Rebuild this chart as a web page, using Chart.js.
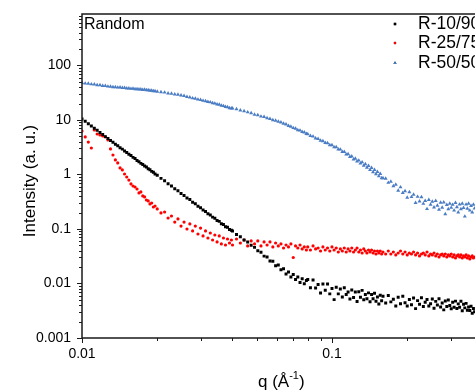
<!DOCTYPE html>
<html>
<head>
<meta charset="utf-8">
<script src="https://cdn.jsdelivr.net/npm/chart.js"></script>
<style>
  html, body { margin: 0; padding: 0; background: #fff; overflow: hidden; }
  canvas { display: block; }
</style>
</head>
<body>
<canvas id="chart" width="520" height="390"></canvas>
<script>
// q grid (A^-1), shared by the three samples
const q = [
  0.0100, 0.0103, 0.0106, 0.0109, 0.0112, 0.0115, 0.0118, 0.0121, 0.0124, 0.0127, 0.0130, 0.0133, 0.0136, 0.0139, 0.0142, 0.0145, 0.0148,
  0.0151, 0.0154, 0.0157, 0.0160, 0.0163, 0.0166, 0.0169, 0.0172, 0.0175, 0.0178, 0.0181, 0.0184, 0.0187, 0.0190, 0.0193, 0.0196,
  0.0200, 0.0207, 0.0214, 0.0221, 0.0228, 0.0235, 0.0242, 0.0249, 0.0256, 0.0263, 0.0270, 0.0277, 0.0284, 0.0291, 0.0298,
  0.0305, 0.0312, 0.0319, 0.0326, 0.0333, 0.0340, 0.0347, 0.0354, 0.0361, 0.0368, 0.0375, 0.0382, 0.0389, 0.0396,
  0.0400, 0.0415, 0.0430, 0.0445, 0.0460, 0.0475, 0.0490, 0.0505, 0.0520, 0.0535, 0.0550, 0.0565, 0.0580, 0.0595,
  0.0610, 0.0625, 0.0640, 0.0655, 0.0670, 0.0685, 0.0700, 0.0715, 0.0730, 0.0745, 0.0760, 0.0775, 0.0790,
  0.080, 0.082, 0.084, 0.086, 0.088, 0.090, 0.092, 0.094, 0.096, 0.098, 0.100, 0.102, 0.104, 0.106, 0.108, 0.110, 0.112, 0.114, 0.116, 0.118,
  0.120, 0.122, 0.124, 0.126, 0.128, 0.130, 0.132, 0.134, 0.136, 0.138, 0.140, 0.142, 0.144, 0.146, 0.148, 0.150, 0.152, 0.154, 0.156, 0.158,
  0.160, 0.164, 0.168, 0.172, 0.176, 0.180, 0.184, 0.188, 0.192, 0.196, 0.200, 0.204, 0.208, 0.212, 0.216, 0.220, 0.224, 0.228,
  0.232, 0.236, 0.240, 0.244, 0.248, 0.252, 0.256, 0.260, 0.264, 0.268, 0.272, 0.276, 0.280, 0.284, 0.288, 0.292, 0.296, 0.300,
  0.304, 0.308, 0.312, 0.316, 0.320, 0.324, 0.328, 0.332, 0.336, 0.340, 0.344, 0.348, 0.352, 0.356, 0.360, 0.364, 0.368, 0.372
];

// intensities (a.u.)
const r1090 = [
  10.4, 9.45, 8.50, 7.76, 7.04, 6.46, 5.87, 5.43, 4.95, 4.59, 4.21, 3.92, 3.59, 3.36, 3.10, 2.92, 2.69,
  2.54, 2.35, 2.22, 2.06, 1.96, 1.81, 1.72, 1.60, 1.53, 1.43, 1.37, 1.27, 1.22, 1.14, 1.10, 1.02,
  0.965, 0.848, 0.767, 0.676, 0.616, 0.547, 0.502, 0.449, 0.413, 0.371, 0.346, 0.310, 0.291, 0.261, 0.245,
  0.223, 0.210, 0.191, 0.181, 0.165, 0.158, 0.143, 0.138, 0.125, 0.121, 0.110, 0.108, 0.0980, 0.0950,
  0.0915, 0.0795, 0.0718, 0.0628, 0.0575, 0.0502, 0.0460, 0.0398, 0.0375, 0.0318, 0.0307, 0.0258, 0.0256, 0.0212,
  0.0218, 0.0178, 0.0186, 0.0149, 0.0163, 0.0131, 0.0146, 0.0118, 0.0131, 0.0104, 0.0122, 0.0099, 0.0113,
  0.0118, 0.00832, 0.0116, 0.00826, 0.00958, 0.00668, 0.00982, 0.00749, 0.00978, 0.00645, 0.00812, 0.00506, 0.00853, 0.00645, 0.00789, 0.00566, 0.00835, 0.00631, 0.00695, 0.00518,
  0.00760, 0.00555, 0.00698, 0.00467, 0.00705, 0.00559, 0.00748, 0.00505, 0.00627, 0.00523, 0.00673, 0.00462, 0.00631, 0.00525, 0.00663, 0.00472, 0.00565, 0.00421, 0.00607, 0.00483,
  0.00582, 0.00440, 0.00605, 0.00460, 0.00512, 0.00385, 0.00557, 0.00426, 0.00584, 0.00445, 0.00387, 0.00508, 0.00409, 0.00540, 0.00346, 0.00485, 0.00415, 0.00548,
  0.00380, 0.00454, 0.00509, 0.00388, 0.00425, 0.00519, 0.00351, 0.00470, 0.00403, 0.00525, 0.00370, 0.00439, 0.00328, 0.00477, 0.00379, 0.00497, 0.00396, 0.00344,
  0.00453, 0.00366, 0.00475, 0.00347, 0.00423, 0.00366, 0.00471, 0.00316, 0.00418, 0.00357, 0.00432, 0.00322, 0.00370, 0.00319, 0.00384, 0.00285, 0.00349, 0.00303
];

const r2575 = [
  6.28, 4.88, 3.94, 3.06, 6.56, 5.53, 5.31, 5.08, 4.88, 4.30, 2.94, 2.28, 1.85, 1.63, 1.32, 1.21, 1.02,
  0.90, 0.79, 0.67, 0.615, 0.59, 0.542, 0.458, 0.478, 0.404, 0.387, 0.340, 0.327, 0.288, 0.300, 0.253, 0.264,
  0.233, 0.197, 0.205, 0.159, 0.173, 0.134, 0.153, 0.113, 0.134, 0.100, 0.124, 0.092, 0.113, 0.081, 0.104,
  0.0745, 0.092, 0.0684, 0.0845, 0.0628, 0.0776, 0.0578, 0.0745, 0.0531, 0.0684, 0.0508, 0.0655, 0.0553, 0.0628,
  0.0508, 0.0655, 0.0553, 0.0628, 0.0488, 0.0603, 0.0531, 0.0603, 0.0488, 0.0578, 0.0508, 0.0578, 0.0468, 0.0553,
  0.0488, 0.0531, 0.0448, 0.0508, 0.0468, 0.0531, 0.0300, 0.0488, 0.0448, 0.0508, 0.0430, 0.0468, 0.0412,
  0.0468, 0.0412, 0.0488, 0.0430, 0.0448, 0.0395, 0.0468, 0.0412, 0.0448, 0.0395, 0.0468, 0.0412, 0.0448, 0.0378, 0.0430, 0.0395, 0.0448, 0.0378, 0.0430, 0.0395,
  0.0448, 0.0378, 0.0412, 0.0448, 0.0378, 0.0412, 0.0363, 0.0430, 0.0395, 0.0363, 0.0412, 0.0378, 0.0412, 0.0363, 0.0395, 0.0348, 0.0395, 0.0363, 0.0395, 0.0348,
  0.0378, 0.0348, 0.0395, 0.0348, 0.0378, 0.0334, 0.0363, 0.0395, 0.0348, 0.0378, 0.0334, 0.0363, 0.0348, 0.0378, 0.0334, 0.0363, 0.0320, 0.0348,
  0.0363, 0.0334, 0.0378, 0.0320, 0.0348, 0.0334, 0.0363, 0.0320, 0.0348, 0.0306, 0.0334, 0.0348, 0.0320, 0.0348, 0.0306, 0.0334, 0.0320, 0.0348,
  0.0306, 0.0334, 0.0294, 0.0320, 0.0334, 0.0306, 0.0334, 0.0294, 0.0320, 0.0306, 0.0334, 0.0294, 0.0320, 0.0282, 0.0306, 0.0320, 0.0294, 0.0306
];

const r5050 = [
  47.9, 46.8, 46.5, 45.3, 45.0, 43.7, 43.6, 42.5, 42.3, 41.2, 41.1, 40.2, 40.3, 39.5, 39.6, 38.8, 38.9,
  38.2, 38.2, 37.5, 37.6, 36.9, 37.0, 36.4, 36.6, 35.9, 36.0, 35.4, 35.4, 34.6, 34.7, 33.9, 34.0,
  33.3, 32.5, 32.0, 30.9, 30.5, 29.6, 29.3, 28.3, 27.7, 26.7, 26.0, 25.1, 24.7, 23.8, 23.4,
  22.6, 22.2, 21.5, 21.2, 20.5, 20.1, 19.4, 19.1, 18.4, 18.1, 17.5, 17.2, 16.6, 16.4,
  16.4, 15.9, 15.0, 14.6, 13.9, 13.4, 12.6, 12.3, 11.6, 11.4, 10.8, 10.5, 10.0, 9.78,
  9.32, 9.05, 8.58, 8.31, 7.82, 7.60, 7.14, 6.96, 6.55, 6.42, 6.05, 5.95, 5.58,
  5.52, 5.14, 4.99, 4.62, 4.51, 4.18, 4.09, 3.80, 3.76, 3.47, 3.46, 3.17, 3.18, 2.90, 2.88, 2.60, 2.61, 2.33, 2.37, 2.10,
  2.15, 1.90, 1.96, 1.74, 1.81, 1.60, 1.68, 1.46, 1.55, 1.34, 1.44, 1.22, 1.33, 1.11, 1.22, 1.02, 1.12, 0.93, 1.03, 0.86,
  0.856, 0.840, 0.707, 0.743, 0.615, 0.653, 0.507, 0.584, 0.460, 0.496, 0.376, 0.477, 0.387, 0.429, 0.301, 0.391, 0.322, 0.385,
  0.291, 0.329, 0.233, 0.344, 0.280, 0.319, 0.249, 0.328, 0.268, 0.228, 0.304, 0.248, 0.308, 0.188, 0.277, 0.232, 0.293, 0.246,
  0.279, 0.219, 0.302, 0.252, 0.202, 0.282, 0.232, 0.292, 0.244, 0.170, 0.282, 0.236, 0.293, 0.219, 0.267, 0.203, 0.281, 0.238
];

const seriesNames = ['R-10/90', 'R-25/75', 'R-50/50'];
const seriesColors = ['#000000', '#ff0000', '#4a7cc4'];

// axis ticks
const yMajor = [0.001, 0.01, 0.1, 1, 10, 100];
const yTickLabels = ['0.001', '0.01', '0.1', '1', '10', '100'];
const xMajor = [0.01, 0.1];
const xTickLabels = ['0.01', '0.1'];
const xMinor = [0.02, 0.03, 0.04, 0.05, 0.06, 0.07, 0.08, 0.09, 0.2, 0.3, 0.4];

const FONT = '"Liberation Sans", Arial, sans-serif';

const toPoints = arr => q.map((v, i) => ({ x: v, y: arr[i] }));

// Origin-like frame, ticks, labels and legend
const framePlugin = {
  id: 'frame',
  afterDraw(chart) {
    const { ctx, chartArea: a } = chart;
    const x = chart.scales.x, y = chart.scales.y;
    ctx.save();
    ctx.strokeStyle = '#1a1a1a';
    ctx.lineWidth = 1.5;
    ctx.beginPath();
    ctx.moveTo(a.right, a.top); ctx.lineTo(a.left, a.top);
    ctx.lineTo(a.left, a.bottom); ctx.lineTo(a.right, a.bottom);
    ctx.stroke();

    ctx.lineWidth = 1;
    ctx.beginPath();
    // y ticks, outward
    yMajor.forEach(v => {
      const py = Math.round(y.getPixelForValue(v)) + 0.5;
      ctx.moveTo(a.left - 5, py); ctx.lineTo(a.left, py);
      for (let k = 2; k <= 9; k++) {
        const m = v * k;
        if (m > y.max) break;
        const pm = Math.round(y.getPixelForValue(m)) + 0.5;
        ctx.moveTo(a.left - 3, pm); ctx.lineTo(a.left, pm);
      }
    });
    // x ticks, outward
    xMajor.forEach(v => {
      const px = Math.round(x.getPixelForValue(v)) + 0.5;
      ctx.moveTo(px, a.bottom); ctx.lineTo(px, a.bottom + 5);
    });
    xMinor.forEach(v => {
      const px = Math.round(x.getPixelForValue(v)) + 0.5;
      ctx.moveTo(px, a.bottom); ctx.lineTo(px, a.bottom + 3);
    });
    ctx.stroke();

    ctx.fillStyle = '#000';
    ctx.font = `14px ${FONT}`;
    ctx.textAlign = 'right';
    ctx.textBaseline = 'middle';
    yMajor.forEach((v, i) => ctx.fillText(yTickLabels[i], a.left - 11, y.getPixelForValue(v)));
    ctx.textAlign = 'center';
    ctx.textBaseline = 'top';
    xMajor.forEach((v, i) => ctx.fillText(xTickLabels[i], x.getPixelForValue(v), a.bottom + 9));

    // axis titles
    ctx.font = `17px ${FONT}`;
    ctx.save();
    ctx.translate(30, 181);
    ctx.rotate(-Math.PI / 2);
    ctx.textAlign = 'center';
    ctx.textBaseline = 'middle';
    ctx.fillText('Intensity (a. u.)', 0, 0);
    ctx.restore();

    ctx.textAlign = 'left';
    ctx.textBaseline = 'alphabetic';
    let tx = 258;
    const by = 387;
    const part1 = 'q (Å';
    ctx.fillText(part1, tx, by);
    tx += ctx.measureText(part1).width;
    ctx.font = `11px ${FONT}`;
    ctx.fillText('-1', tx, by - 8);
    tx += ctx.measureText('-1').width;
    ctx.font = `17px ${FONT}`;
    ctx.fillText(')', tx, by);

    // sample label
    ctx.font = `16px ${FONT}`;
    ctx.textBaseline = 'middle';
    ctx.fillText('Random', a.left + 2, 25);

    // legend
    const rows = [24, 43, 63];
    chart.data.datasets.forEach((ds, i) => {
      Chart.helpers.drawPoint(ctx, {
        pointStyle: ds.pointStyle, radius: ds.pointRadius * 0.8, borderWidth: 0
      }, 395, rows[i]);
      ctx.fillStyle = ds.backgroundColor;
      ctx.fill();
      ctx.fillStyle = '#000';
      ctx.font = `17.5px ${FONT}`;
      ctx.fillText(seriesNames[i], 418, rows[i]);
    });
    ctx.restore();
  }
};

new Chart(document.getElementById('chart'), {
  type: 'scatter',
  data: {
    datasets: [
      { label: seriesNames[0], data: toPoints(r1090), backgroundColor: seriesColors[0], borderWidth: 0,
        pointStyle: 'rect', pointRadius: 2.1, pointBorderWidth: 0 },
      { label: seriesNames[1], data: toPoints(r2575), backgroundColor: seriesColors[1], borderWidth: 0,
        pointStyle: 'circle', pointRadius: 1.6, pointBorderWidth: 0 },
      { label: seriesNames[2], data: toPoints(r5050), backgroundColor: seriesColors[2], borderWidth: 0,
        pointStyle: 'triangle', pointRadius: 2.3, pointBorderWidth: 0 }
    ]
  },
  options: {
    responsive: false,
    animation: false,
    layout: { padding: { left: 82, top: 14, right: 13.3, bottom: 52 } },
    plugins: { legend: { display: false }, tooltip: { enabled: false } },
    scales: {
      x: { type: 'logarithmic', min: 0.01, max: 0.5, display: false },
      y: { type: 'logarithmic', min: 0.001, max: 880, display: false }
    }
  },
  plugins: [framePlugin]
});
</script>
</body>
</html>
